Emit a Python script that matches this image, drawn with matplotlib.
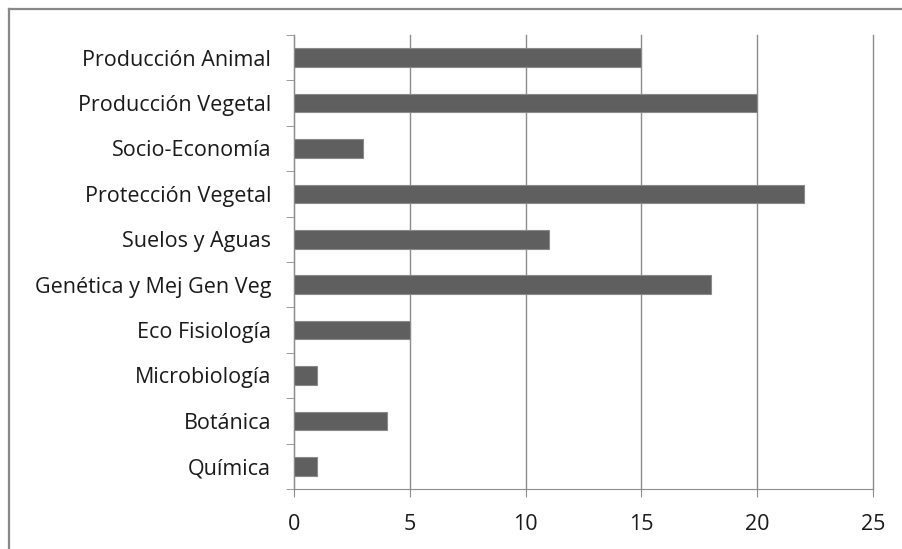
import matplotlib.pyplot as plt
from matplotlib.lines import Line2D

plt.rcParams['font.family'] = ['Open Sans', 'DejaVu Sans']

categorias = ["Química", "Botánica", "Microbiología", "Eco Fisiología",
              "Genética y Mej Gen Veg", "Suelos y Aguas", "Protección Vegetal",
              "Socio-Economía", "Producción Vegetal", "Producción Animal"]
valores = [1, 4, 1, 5, 18, 11, 22, 3, 20, 15]
xticks = [0, 5, 10, 15, 20, 25]

W, H = 902, 549
fig = plt.figure(figsize=(W/100, H/100), dpi=100)
ax = fig.add_axes([294/W, 1-489/H, (873-294)/W, (489-35)/H])

pos = list(range(len(categorias)))
ax.barh(pos, valores, height=0.41, color='#5f5f5f', edgecolor='#8a8a8a', linewidth=0.8, zorder=3)

ax.set_xlim(0, 25)
ax.set_ylim(-0.5, len(categorias) - 0.5)
ax.set_xticks(xticks)
ax.set_xticklabels([str(t) for t in xticks], fontsize=15.5, color='#1a1a1a')
ax.set_yticks(pos)
ax.set_yticklabels(categorias, fontsize=15.5, color='#1a1a1a')
ax.set_yticks([p + 0.5 for p in range(-1, len(categorias))], minor=True)
ax.tick_params(axis='y', which='major', length=0, pad=16.5)
ax.tick_params(axis='y', which='minor', length=5.8, color='#8c8c8c', direction='out')
ax.tick_params(axis='x', length=5.8, color='#8c8c8c', direction='out', pad=12.5)
ax.grid(axis='x', color='#8c8c8c', linewidth=1, zorder=0)
for g in ax.get_xgridlines():
    g.set_clip_on(False)

for s in ['top', 'right']:
    ax.spines[s].set_visible(False)
for s in ['left', 'bottom']:
    ax.spines[s].set_color('#8c8c8c')

# borde del grafico (solo arriba e izquierda, el resto queda recortado)
fig.add_artist(Line2D([9/W, 1], [1-9/H, 1-9/H], transform=fig.transFigure, color='#888888', linewidth=1.6))
fig.add_artist(Line2D([9/W, 9/W], [0, 1-9/H], transform=fig.transFigure, color='#888888', linewidth=1.6))

fig.savefig("out.png", dpi=100)
